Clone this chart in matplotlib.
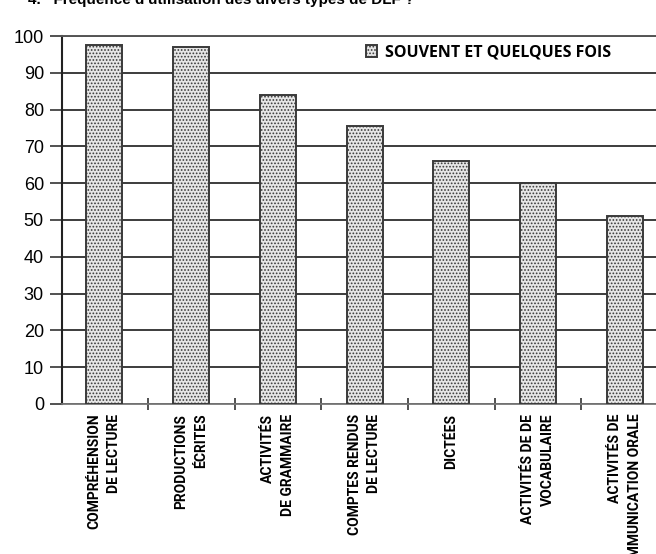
import matplotlib
matplotlib.use("Agg")
import matplotlib.pyplot as plt
from matplotlib.ticker import FixedLocator

categories = [
    "COMPRÉHENSION\nDE LECTURE",
    "PRODUCTIONS\nÉCRITES",
    "ACTIVITÉS\nDE GRAMMAIRE",
    "COMPTES RENDUS\nDE LECTURE",
    "DICTÉES",
    "ACTIVITÉS DE DE\nVOCABULAIRE",
    "ACTIVITÉS DE\nCOMMUNICATION ORALE",
]
values = [97.5, 97, 84, 75.5, 66, 60, 51]
series_label = "SOUVENT ET QUELQUES FOIS"
yticks = [0, 10, 20, 30, 40, 50, 60, 70, 80, 90, 100]
title = "4.   Fréquence d'utilisation des divers types de DLF ?"

fig = plt.figure(figsize=(6.56, 5.54), dpi=100)
ax = fig.add_axes([0.0945, 0.2708, 0.9055, 0.6642])

x = list(range(len(categories)))
plt.rcParams['hatch.color'] = '#8a8a8a'
plt.rcParams['hatch.linewidth'] = 0.8
bars = ax.bar(x, values, width=0.415, facecolor='#e6e6e6', edgecolor='#3a3a3a',
              linewidth=1.4, hatch='.....', label=series_label, zorder=3)

ax.set_ylim(0, 100)
ax.set_xlim(-0.49, 6.36)
ax.set_yticks(yticks)
ax.set_yticklabels([str(v) for v in yticks], fontsize=13, family='Liberation Sans')
ax.yaxis.grid(True, color='#3c3c3c', linewidth=1.4, zorder=1)
ax.tick_params(axis='y', direction='out', length=9, width=1.2, color='#333', pad=4)

ax.set_xticks(x)
ax.set_xticklabels(categories, rotation=90, fontsize=10, fontweight='bold',
                   family='Roboto', fontstretch='condensed',
                   va='top', ha='center', multialignment='right', linespacing=1.5)
ax.tick_params(axis='x', length=0, pad=7)
ax.xaxis.set_minor_locator(FixedLocator([0.5, 1.5, 2.5, 3.5, 4.5, 5.5]))
ax.tick_params(axis='x', which='minor', direction='inout', length=9, width=1.2, color='#333')

for s in ['right']:
    ax.spines[s].set_visible(False)
ax.spines['top'].set_color('#555')
ax.spines['top'].set_linewidth(1.4)
ax.spines['left'].set_color('#222')
ax.spines['left'].set_linewidth(1.5)
ax.spines['bottom'].set_color('#777')
ax.spines['bottom'].set_linewidth(1.3)

leg = ax.legend(loc='center left', bbox_to_anchor=(0.488, 0.955), frameon=False,
                handlelength=0.7, handleheight=0.7, handletextpad=0.5,
                prop={'family': 'Open Sans', 'weight': 'bold', 'size': 11.5})

fig.text(0.043, 1.0, title, fontsize=11, fontweight='bold', family='Liberation Sans',
         va='center', ha='left')

fig.savefig("out.png", dpi=100)
